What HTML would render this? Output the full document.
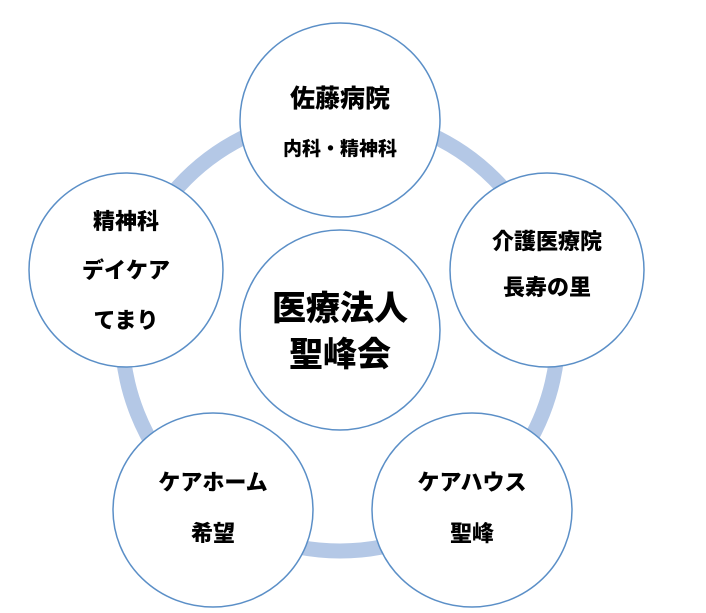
<!DOCTYPE html>
<html><head><meta charset="utf-8"><style>
html,body{margin:0;padding:0;background:#fff;}
svg text{font-family:"Liberation Sans","Noto Sans CJK JP",sans-serif;font-weight:900;fill:#000;text-anchor:middle;}
</style></head><body>
<svg width="706" height="608" viewBox="0 0 706 608" xmlns="http://www.w3.org/2000/svg">
<circle cx="340" cy="333" r="218" fill="none" stroke="#b4c8e6" stroke-width="15"/>
<g fill="#fff" stroke="#5b8fc7" stroke-width="1.5">
<ellipse cx="340" cy="120" rx="100" ry="97"/>
<ellipse cx="340" cy="330" rx="100" ry="100"/>
<ellipse cx="126" cy="270" rx="97" ry="97"/>
<ellipse cx="547" cy="270" rx="97" ry="97"/>
<ellipse cx="213" cy="510" rx="100" ry="97"/>
<ellipse cx="472" cy="510" rx="100" ry="97"/>
</g>
<text x="340" y="107" font-size="25">佐藤病院</text>
<text x="340" y="155" font-size="19">内科・精神科</text>
<text x="340" y="320" font-size="34">医療法人</text>
<text x="340" y="366" font-size="34">聖峰会</text>
<text x="126" y="229" font-size="22">精神科</text>
<text x="126" y="278" font-size="22">デイケア</text>
<text x="126" y="328" font-size="22">てまり</text>
<text x="547" y="249" font-size="22">介護医療院</text>
<text x="547" y="295" font-size="22">長寿の里</text>
<text x="213" y="490" font-size="22">ケアホーム</text>
<text x="213" y="541" font-size="22">希望</text>
<text x="472" y="490" font-size="22">ケアハウス</text>
<text x="472" y="541" font-size="22">聖峰</text>
</svg>
</body></html>
